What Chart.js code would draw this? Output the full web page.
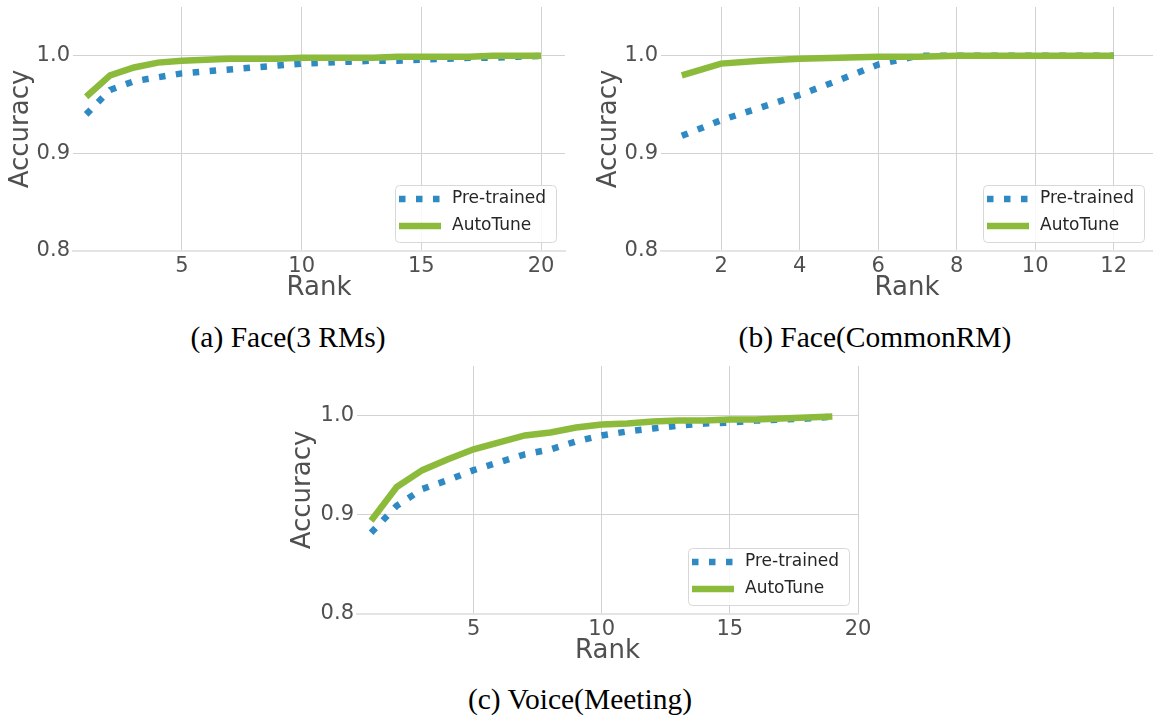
<!DOCTYPE html>
<html>
<head>
<meta charset="utf-8">
<script src="https://cdn.jsdelivr.net/npm/chart.js@4/dist/chart.umd.min.js"></script>
<style>
  html, body { margin: 0; padding: 0; background: #ffffff; }
  #wrap { position: relative; width: 1153px; height: 720px; overflow: hidden; background: #fff; }
  canvas { position: absolute; }
  .cap { position: absolute; font-family: "Liberation Serif", "Times New Roman", serif; font-size: 29.5px; color: #000; white-space: nowrap; transform: translate(-50%, -50%); line-height: 1; }
</style>
</head>
<body>
<div id="wrap">
  <canvas id="cA" width="580" height="320" style="left:0px;top:0px;"></canvas>
  <canvas id="cB" width="573" height="320" style="left:580px;top:0px;"></canvas>
  <canvas id="cC" width="600" height="320" style="left:280px;top:360px;"></canvas>
  <div class="cap" style="left:288px;top:338px;">(a) Face(3 RMs)</div>
  <div class="cap" style="left:875px;top:338px;">(b) Face(CommonRM)</div>
  <div class="cap" style="left:580px;top:700px;">(c) Voice(Meeting)</div>
</div>
<script>
// ---------------- data ----------------
const seriesNames = ["Pre-trained", "AutoTune"];
const yTicks = [0.8, 0.9, 1.0];

// (a) Face(3 RMs)
const ranksA = [1,2,3,4,5,6,7,8,9,10,11,12,13,14,15,16,17,18,19,20];
const pretrainedA = [0.940,0.965,0.974,0.978,0.982,0.984,0.986,0.988,0.990,0.992,0.993,0.994,0.995,0.995,0.996,0.997,0.998,0.998,0.999,1.000];
const autotuneA   = [0.958,0.980,0.988,0.993,0.995,0.996,0.997,0.997,0.997,0.998,0.998,0.998,0.998,0.999,0.999,0.999,0.999,1.000,1.000,1.000];
const xTicksA = [5, 10, 15, 20];

// (b) Face(CommonRM)
const ranksB = [1,2,3,4,5,6,7,8,9,10,11,12];
const pretrainedB = [0.918,0.934,0.947,0.960,0.975,0.991,1.000,1.000,1.000,1.000,1.000,1.000];
const autotuneB   = [0.980,0.992,0.995,0.997,0.998,0.999,0.999,1.000,1.000,1.000,1.000,1.000];
const xTicksB = [2, 4, 6, 8, 10, 12];

// (c) Voice(Meeting)
const ranksC = [1,2,3,4,5,6,7,8,9,10,11,12,13,14,15,16,17,18,19];
const pretrainedC = [0.882,0.909,0.926,0.935,0.945,0.953,0.961,0.966,0.974,0.980,0.984,0.987,0.990,0.992,0.993,0.995,0.996,0.997,0.999];
const autotuneC   = [0.894,0.928,0.945,0.956,0.966,0.973,0.980,0.983,0.988,0.991,0.992,0.994,0.995,0.995,0.996,0.996,0.997,0.998,0.999];
const xTicksC = [5, 10, 15, 20];

// ---------------- style ----------------
const BLUE = '#2f8ac4';
const GREEN = '#8cbb3c';
const GRID = '#d2d2d2';
const TICK_COLOR = '#505050';
const FONT = '"DejaVu Sans", sans-serif';

const legendBox = {
  id: 'legendBox',
  afterDatasetsDraw(chart) {
    const {ctx, chartArea: a} = chart;
    const w = 161, h = 57;
    const x = Math.round(a.right - 9 - w), y = Math.round(a.bottom - 9 - h);
    ctx.save();
    ctx.beginPath();
    ctx.roundRect(x + 0.5, y + 0.5, w, h, 4);
    ctx.fillStyle = 'rgba(255,255,255,0.85)';
    ctx.fill();
    ctx.strokeStyle = '#d8d8d8';
    ctx.lineWidth = 1;
    ctx.stroke();
    chart.data.datasets.forEach((ds, i) => {
      const cy = y + 14 + i * 27;
      ctx.beginPath();
      ctx.moveTo(x + 4, cy);
      ctx.lineTo(x + 46, cy);
      ctx.strokeStyle = ds.borderColor;
      ctx.lineWidth = ds.borderWidth;
      ctx.lineCap = 'butt';
      ctx.setLineDash(ds.borderDash || []);
      ctx.stroke();
      ctx.setLineDash([]);
      ctx.fillStyle = '#262626';
      ctx.font = '17px ' + FONT;
      ctx.textBaseline = 'middle';
      ctx.textAlign = 'left';
      ctx.fillText(ds.label, x + 57, cy);
    });
    ctx.restore();
  }
};

function makeChart(id, cfg) {
  const cv = document.getElementById(id);
  const W = cv.width, H = cv.height;
  const ar = cfg.area;
  const pre = cfg.ranks.map((r, i) => ({x: r, y: cfg.pre[i]}));
  const aut = cfg.ranks.map((r, i) => ({x: r, y: cfg.auto[i]}));
  return new Chart(cv.getContext('2d'), {
    type: 'line',
    data: {
      datasets: [
        {label: seriesNames[0], data: pre, borderColor: BLUE, backgroundColor: BLUE, borderWidth: 6.5,
         borderDash: [6.5, 10.5], borderCapStyle: 'butt', pointRadius: 0, tension: 0, fill: false, order: 1},
        {label: seriesNames[1], data: aut, borderColor: GREEN, backgroundColor: GREEN, borderWidth: 6.5,
         borderCapStyle: 'butt', borderJoinStyle: 'miter', pointRadius: 0, tension: 0, fill: false, order: 0}
      ]
    },
    options: {
      responsive: false,
      animation: false,
      devicePixelRatio: 1,
      layout: {padding: {left: 0, top: ar.t, right: W - ar.r, bottom: 0}},
      plugins: {legend: {display: false}, tooltip: {enabled: false}},
      scales: {
        x: {
          type: 'linear',
          min: cfg.xMin, max: cfg.xMax,
          afterBuildTicks: s => { s.ticks = cfg.xTicks.map(v => ({value: v})); },
          afterFit: s => { s.height = H - ar.b; s.paddingLeft = 0; s.paddingRight = 0; s.paddingTop = 0; s.paddingBottom = 0; },
          ticks: {font: {family: FONT, size: 21}, color: TICK_COLOR, padding: 3, maxRotation: 0, autoSkip: false,
                  callback: v => String(v)},
          grid: {color: GRID, lineWidth: 1, drawTicks: false},
          border: {display: true, color: '#e4e4e4', width: 2},
          title: {display: true, text: 'Rank', font: {family: FONT, size: 26}, color: TICK_COLOR,
                  padding: {top: 0, bottom: H - ar.b - 37.5 - 15.6}}
        },
        y: {
          type: 'linear',
          min: 0.8, max: 1.05,
          afterBuildTicks: s => { s.ticks = yTicks.map(v => ({value: v})); },
          afterFit: s => { s.width = ar.l; s.paddingLeft = 0; s.paddingRight = 0; s.paddingTop = 0; s.paddingBottom = 0; },
          ticks: {font: {family: FONT, size: 21}, color: TICK_COLOR, padding: 3,
                  callback: v => Number(v).toFixed(1)},
          grid: {color: GRID, lineWidth: 1, drawTicks: false},
          border: {display: false},
          title: {display: true, text: 'Accuracy', font: {family: FONT, size: 26}, color: TICK_COLOR,
                  padding: {top: cfg.yTitle - 15.6, bottom: 0}}
        }
      }
    },
    plugins: [legendBox]
  });
}

makeChart('cA', {ranks: ranksA, pre: pretrainedA, auto: autotuneA, xTicks: xTicksA,
  xMin: 0.45, xMax: 21, area: {l: 73, t: 7, r: 565, b: 251}, yTitle: 21});
makeChart('cB', {ranks: ranksB, pre: pretrainedB, auto: autotuneB, xTicks: xTicksB,
  xMin: 0.47, xMax: 13, area: {l: 81, t: 7, r: 573, b: 251}, yTitle: 29});
makeChart('cC', {ranks: ranksC, pre: pretrainedC, auto: autotuneC, xTicks: xTicksC,
  xMin: 0.45, xMax: 20, area: {l: 77, t: 6, r: 578, b: 254}, yTitle: 23});
</script>
</body>
</html>
